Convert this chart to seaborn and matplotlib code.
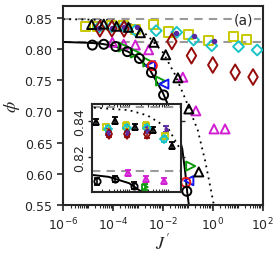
import numpy as np
import matplotlib
matplotlib.use("Agg")
import matplotlib.pyplot as plt
from matplotlib.ticker import LogLocator, NullFormatter
import seaborn as sns

# black circles (lower branch)
j_circ = [1.5e-5, 4.3e-5, 1.3e-4, 3.8e-4, 1.15e-3, 3.5e-3, 1.07e-2, 9.1e-2]
phi_circ = [0.8065, 0.8078, 0.8042, 0.796, 0.785, 0.7625, 0.7265, 0.572]

# black triangles (upper branch)
j_tri = [1.4e-5, 4.3e-5, 1.4e-4, 4.2e-4, 1.26e-3, 4.3e-3, 1.3e-2, 4.0e-2, 0.11, 0.275]
phi_tri = [0.8395, 0.8402, 0.8367, 0.835, 0.8263, 0.811, 0.791, 0.754, 0.704, 0.603]

# yellow squares
j_sq = [7.9e-6, 2.5e-5, 8.5e-5, 2.7e-4, 8.3e-4, 4.3e-3, 1.7e-2, 0.11, 0.68, 6.8, 22]
phi_sq = [0.837, 0.8367, 0.8374, 0.8374, 0.8317, 0.839, 0.8275, 0.824, 0.814, 0.821, 0.816]

# cyan diamonds
j_dia = [2.8e-5, 8.9e-5, 2.8e-4, 7.9e-4, 5.4e-3, 3.6e-2, 0.17, 0.91, 10.7, 60]
phi_dia = [0.8355, 0.836, 0.8362, 0.830, 0.8296, 0.827, 0.8147, 0.8055, 0.804, 0.7986]

# dark red thin diamonds
j_red = [3.0e-5, 9.1e-5, 2.8e-4, 2.3e-2, 0.14, 1.0, 7.9, 41]
phi_red = [0.8328, 0.8328, 0.8325, 0.8123, 0.7895, 0.7746, 0.7628, 0.7553]

# small purple markers
j_pur = [2.8e-5, 8.9e-5, 2.8e-4, 8.9e-4, 3.3e-2, 0.18, 1.12]
phi_pur = [0.834, 0.834, 0.835, 0.8356, 0.8254, 0.8216, 0.8136]

# magenta triangles
j_mag = [9.5e-5, 2.7e-4, 7.9e-4, 2.7e-3, 6.3e-2, 0.21, 1.12, 3.1]
phi_mag = [0.8111, 0.8078, 0.8067, 0.799, 0.755, 0.701, 0.672, 0.672]

# green right triangles
j_grn = [2.6e-4, 7.9e-4, 2.5e-3, 8.1e-3, 0.13]
phi_grn = [0.8035, 0.7938, 0.7794, 0.7489, 0.6124]

# blue left triangles
j_blu = [3.2e-3, 1.1e-2, 0.11]
phi_blu = [0.7735, 0.744, 0.589]

# red circles
j_rc = [3.8e-3, 8.3e-2]
phi_rc = [0.7735, 0.5863]

# solid curve
j_solid = [1e-6, 1e-5, 3e-5, 1e-4, 2e-4, 4e-4, 1e-3, 3e-3, 1e-2, 3e-2, 6e-2, 8e-2, 9.5e-2, 1.1e-1]
phi_solid = [0.8115, 0.8102, 0.809, 0.8055, 0.801, 0.796, 0.787, 0.767, 0.73, 0.685, 0.64, 0.60, 0.57, 0.55]

# dotted curve
j_dot = [1e-6, 1e-5, 1e-4, 3e-4, 1e-3, 3e-3, 1e-2, 3e-2, 8e-2, 0.25, 0.5, 1.0, 1.1]
phi_dot = [0.848, 0.8475, 0.846, 0.843, 0.836, 0.818, 0.795, 0.76, 0.72, 0.67, 0.62, 0.559, 0.55]

# dashed reference levels
phi_levels = [0.848, 0.812]
err_inset = 0.0018

sns.set_style("ticks")
plt.rcParams['font.family'] = ['DejaVu Sans']

fig = plt.figure(figsize=(2.75, 2.55), dpi=100)
ax = fig.add_axes([0.2291, 0.1922, 0.7262, 0.7823])
ax_in = fig.add_axes([0.3345, 0.2431, 0.3236, 0.3451])

series = [
    (j_sq, phi_sq, 's', '#c8c800', 6.5, 'none'),
    (j_dia, phi_dia, 'D', '#19c3c8', 5.5, 'none'),
    (j_red, phi_red, 'd', '#960a0a', 8, 'none'),
    (j_pur, phi_pur, 'o', '#5a28a0', 2.5, '#5a28a0'),
    (j_mag, phi_mag, '^', '#d21ed2', 6.5, 'none'),
    (j_grn, phi_grn, '>', '#0a9a0a', 6.5, 'none'),
    (j_blu, phi_blu, '<', '#1414f0', 6.5, 'none'),
    (j_rc, phi_rc, 'o', '#f01414', 6.5, 'none'),
    (j_circ, phi_circ, 'o', 'black', 6.5, 'none'),
    (j_tri, phi_tri, '^', 'black', 6.5, 'none'),
]

for a in (ax, ax_in):
    a.set_xscale('log')
    for lev in phi_levels:
        a.axhline(lev, color='#9a9a9a', lw=1.5, dashes=(4, 3), zorder=1)
    sns.lineplot(x=j_solid, y=phi_solid, color='black', lw=1.4, sort=False, ax=a, zorder=2)
    sns.lineplot(x=j_dot, y=phi_dot, color='black', lw=1.3, sort=False, ax=a, zorder=2,
                 dashes=False, linestyle=(0, (1, 2.4)))

for jx, py, mk, col, ms, fc in series:
    sns.scatterplot(x=jx, y=py, marker=mk, s=ms ** 2, facecolor=fc, edgecolor=col,
                    linewidth=1.4, ax=ax, zorder=3, clip_on=True)
    ax_in.errorbar(jx, py, yerr=err_inset, fmt=mk, ms=ms * 0.7, mfc=fc, mec=col,
                   mew=1.3, ecolor=col, elinewidth=1.2, capsize=2.4, capthick=1.3, zorder=3)

ax.set_xlim(1e-6, 1e2)
ax.set_ylim(0.55, 0.87)
ax.set_xticks([1e-6, 1e-4, 1e-2, 1, 1e2])
ax.xaxis.set_minor_locator(LogLocator(base=10, subs=np.arange(1, 10), numticks=100))
ax.xaxis.set_minor_formatter(NullFormatter())
ax.set_yticks([0.55, 0.60, 0.65, 0.70, 0.75, 0.80, 0.85])
ax.tick_params(axis='both', which='major', labelsize=9, length=4, width=1.2, direction='out')
ax.tick_params(axis='x', which='minor', length=2, width=0.8, direction='out')
for sp in ax.spines.values():
    sp.set_linewidth(1.5)
ax.set_xlabel(r"$J^{\prime}$", fontsize=13, math_fontfamily='stix', labelpad=0)
ax.set_ylabel(r"$\phi$", fontsize=13, math_fontfamily='stix', labelpad=2)
ax.text(0.906, 0.932, "(a)", transform=ax.transAxes, fontsize=10, ha='center', va='center',
        bbox=dict(facecolor='white', edgecolor='none', pad=0.5), zorder=5)

ax_in.set_xlim(1.12e-5, 2.14e-3)
ax_in.set_ylim(0.8006, 0.8494)
ax_in.set_yticks([0.82, 0.84])
ax_in.xaxis.set_minor_locator(LogLocator(base=10, subs=np.arange(1, 10), numticks=100))
ax_in.xaxis.set_minor_formatter(NullFormatter())
ax_in.tick_params(axis='x', which='both', bottom=True, top=True, labelbottom=False,
                  direction='in', length=2.5, width=0.8)
ax_in.tick_params(axis='y', which='major', left=True, right=True, direction='out',
                  length=3, width=1, labelsize=9, labelrotation=90, pad=1)
for lab in ax_in.get_yticklabels():
    lab.set_va('center')
for sp in ax_in.spines.values():
    sp.set_linewidth(1.5)
ax_in.set_facecolor('white')

fig.savefig("out.png", dpi=100)
